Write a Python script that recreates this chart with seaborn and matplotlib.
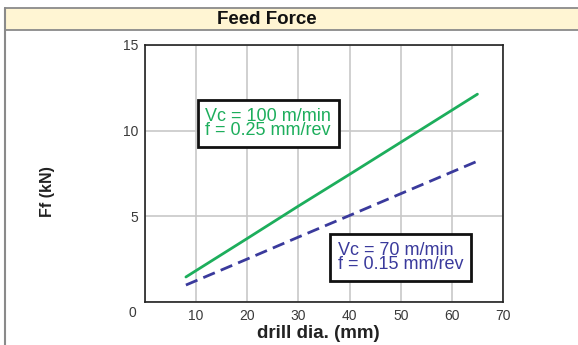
import matplotlib
matplotlib.use("Agg")
import matplotlib.pyplot as plt
import seaborn as sns
import pandas as pd
from matplotlib.patches import Rectangle
from matplotlib.lines import Line2D

# Data
drill_dia = [8, 20, 30, 40, 50, 65]
ff_vc100 = [1.46, 3.71, 5.6, 7.45, 9.32, 12.13]
ff_vc70 = [0.99, 2.51, 3.79, 5.05, 6.32, 8.22]
series_names = ["Vc = 100 m/min\nf = 0.25 mm/rev", "Vc = 70 m/min\nf = 0.15 mm/rev"]
x_ticks = [0, 10, 20, 30, 40, 50, 60, 70]
y_ticks = [0, 5, 10, 15]
title = "Feed Force"
x_label = "drill dia. (mm)"
y_label = "Ff (kN)"

df = pd.DataFrame({
    "x": drill_dia * 2,
    "y": ff_vc100 + ff_vc70,
    "s": [series_names[0]] * len(drill_dia) + [series_names[1]] * len(drill_dia),
})

sns.set_theme(style="white")
plt.rcParams['font.family'] = ['Liberation Sans', 'DejaVu Sans']

green = "#1DAE5C"
blue = "#3A3A9C"

fig = plt.figure(figsize=(5.78, 3.45), dpi=100)
fig.patch.set_facecolor("white")

# Outer frame and title bar
W, H = 578, 345
def fx(px): return px / W
def fy(py): return 1 - py / H
fig.add_artist(Rectangle((fx(5), fy(30)), 1.1, fy(8) - fy(30), transform=fig.transFigure,
                         facecolor="#FFF5D3", edgecolor="#8A8A8A", linewidth=1.3, zorder=0))
fig.add_artist(Line2D([fx(5), fx(5)], [fy(8), 0], transform=fig.transFigure,
                      color="#8A8A8A", linewidth=1.5))
fig.text(fx(267), fy(19), title, ha="center", va="center", fontsize=13.5,
         fontweight="bold", color="#111111")

ax = fig.add_axes([fx(145), fy(302), fx(503) - fx(145), fy(45) - fy(302)])

sns.lineplot(data=df, x="x", y="y", hue="s", style="s",
             palette=[green, blue], dashes=[(None, None), (4.5, 2.3)],
             linewidth=2.0, legend=False, ax=ax)

ax.set_xlim(0, 70)
ax.set_ylim(0, 15)
ax.set_xticks(x_ticks)
ax.set_yticks(y_ticks)
ax.set_xticklabels([""] + [str(t) for t in x_ticks[1:]])
ax.set_yticklabels([""] + [str(t) for t in y_ticks[1:]])
ax.tick_params(axis="both", length=0, labelsize=10, labelcolor="#3a3a3a", pad=5)
ax.grid(True, color="#C8C8C8", linewidth=1.2)
for sp in ax.spines.values():
    sp.set_color("#222222")
    sp.set_linewidth(1.2)
ax.set_xlabel(x_label, fontsize=13.5, fontweight="bold", color="#222222")
ax.xaxis.set_label_coords((318 - 145) / (503 - 145), -(333 - 302) / (302 - 45))
ax.xaxis.label.set_va("center")
ax.set_ylabel(y_label, fontsize=11.5, fontweight="bold", color="#222222")
ax.yaxis.set_label_coords((47 - 145) / (503 - 145), (302 - 192) / (302 - 45))
ax.yaxis.label.set_va("center")

ax.annotate("0", xy=(0, 0), xycoords="data", xytext=(-9, -8), textcoords="offset points",
            ha="center", va="center", fontsize=10, color="#3a3a3a", annotation_clip=False)

box = dict(boxstyle="square,pad=0.42", facecolor="white", edgecolor="#111111", linewidth=2)
ax.text(11.8, 10.42, series_names[0], color=green, fontsize=13, linespacing=0.82,
        ha="left", va="center", bbox=box)
ax.text(37.7, 2.6, series_names[1], color=blue, fontsize=13, linespacing=0.82,
        ha="left", va="center", bbox=box)

fig.savefig("out.png", dpi=100)
